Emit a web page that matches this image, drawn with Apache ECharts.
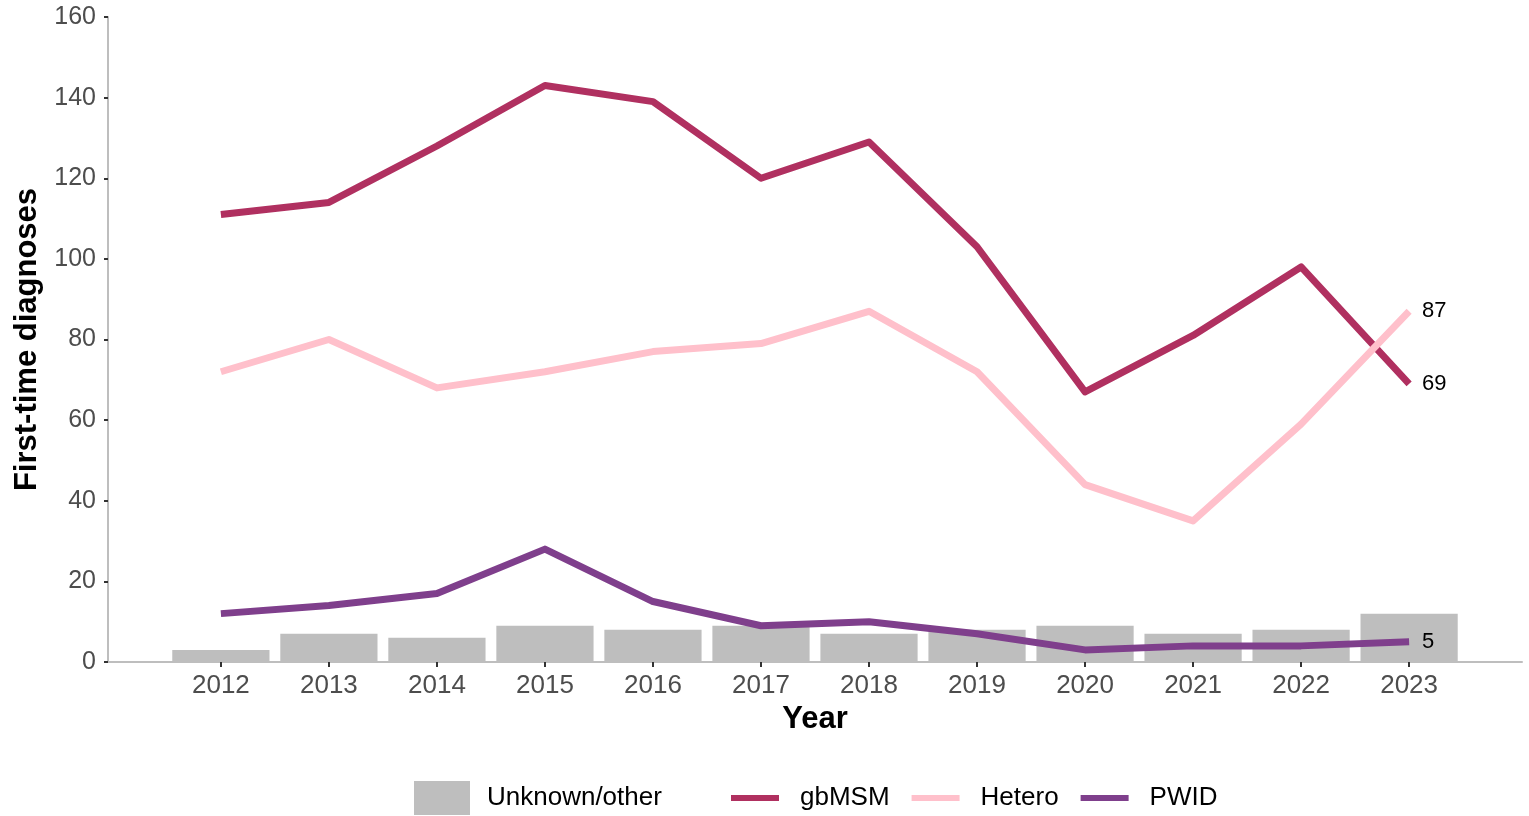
<!DOCTYPE html>
<html><head><meta charset="utf-8">
<script src="https://cdn.jsdelivr.net/npm/echarts@6/dist/echarts.min.js"></script>
<style>html,body{margin:0;padding:0;background:#fff}#c{width:1529px;height:816px}</style>
</head><body><div id="c"></div>
<script>
const years = [2012,2013,2014,2015,2016,2017,2018,2019,2020,2021,2022,2023];
const unknownOther = [3,7,6,9,8,9,7,8,9,7,8,12];
const gbMSM = [111,114,128,143,139,120,129,103,67,81,98,69];
const hetero = [72,80,68,72,77,79,87,72,44,35,59,87];
const pwid = [12,14,17,28,15,9,10,7,3,4,4,5];
const yTicks = [0,20,40,60,80,100,120,140,160];

const font = 'Liberation Sans, Arial, Helvetica, sans-serif';
const xMin = 2010.955, xMax = 2024.045;
const gridLeft = 108, gridRight = 7;
const pxPerYear = (1529 - gridLeft - gridRight) / (xMax - xMin);

function pairs(vals) {
  return vals.map((v, i) => [years[i], v]);
}

const chart = echarts.init(document.getElementById('c'), null, { renderer: 'canvas' });
const endLabel = { show: true, distance: 13, formatter: p => String(p.value[1]),
  color: '#000', fontSize: 22, fontFamily: font };
function lineSeries(name, vals, color) {
  return { type: 'line', name: name, data: pairs(vals), showSymbol: false, symbol: 'none', z: 3,
    itemStyle: { color: color },
    lineStyle: { width: 7, color: color, cap: 'butt', join: 'round' },
    endLabel: endLabel, emphasis: { disabled: true } };
}
chart.setOption({
  animation: false,
  backgroundColor: '#fff',
  grid: { left: gridLeft, right: gridRight, top: 17, bottom: 154, containLabel: false },
  xAxis: {
    type: 'value', min: xMin, max: xMax,
    name: 'Year', nameLocation: 'middle', nameGap: 41,
    nameTextStyle: { fontFamily: font, fontSize: 31, fontWeight: 'bold', color: '#000' },
    axisLine: { show: true, lineStyle: { color: '#BEBEBE', width: 2 } },
    axisTick: { show: true, length: 5, lineStyle: { color: '#333', width: 2 }, customValues: years },
    axisLabel: { show: true, margin: 11, fontFamily: font, fontSize: 26, color: '#4D4D4D',
      customValues: years, formatter: v => String(v) },
    splitLine: { show: false }
  },
  yAxis: {
    type: 'value', min: 0, max: 160, interval: 20,
    name: 'First-time diagnoses', nameLocation: 'middle', nameGap: 62,
    nameTextStyle: { fontFamily: font, fontSize: 31, fontWeight: 'bold', color: '#000' },
    axisLine: { show: true, lineStyle: { color: '#BEBEBE', width: 2 } },
    axisTick: { show: true, length: 4, lineStyle: { color: '#333', width: 2 } },
    axisLabel: { margin: 12, fontFamily: font, fontSize: 25, color: '#4D4D4D',
      formatter: v => yTicks.includes(v) ? String(v) : '' },
    splitLine: { show: false }
  },
  legend: [
    { data: ['Unknown/other'], left: 414, top: 781, padding: 0, icon: 'rect', itemWidth: 56, itemHeight: 34,
      textStyle: { fontFamily: font, fontSize: 26, color: '#000', padding: [0,0,0,12] }, selectedMode: false },
    { data: ['gbMSM','Hetero','PWID'], left: 731, top: 785, padding: 0, icon: 'rect', itemWidth: 48, itemHeight: 6,
      itemGap: 22, textStyle: { fontFamily: font, fontSize: 26, color: '#000', padding: [0,0,0,16] }, selectedMode: false }
  ],
  series: [
    { name: 'Unknown/other', type: 'bar', data: pairs(unknownOther), barWidth: 0.9 * pxPerYear,
      itemStyle: { color: '#BEBEBE' }, z: 2, emphasis: { disabled: true } },
    lineSeries('gbMSM', gbMSM, '#B03060'),
    lineSeries('Hetero', hetero, '#FFC0CB'),
    lineSeries('PWID', pwid, '#7F3F8C')
  ]
});
</script></body></html>
